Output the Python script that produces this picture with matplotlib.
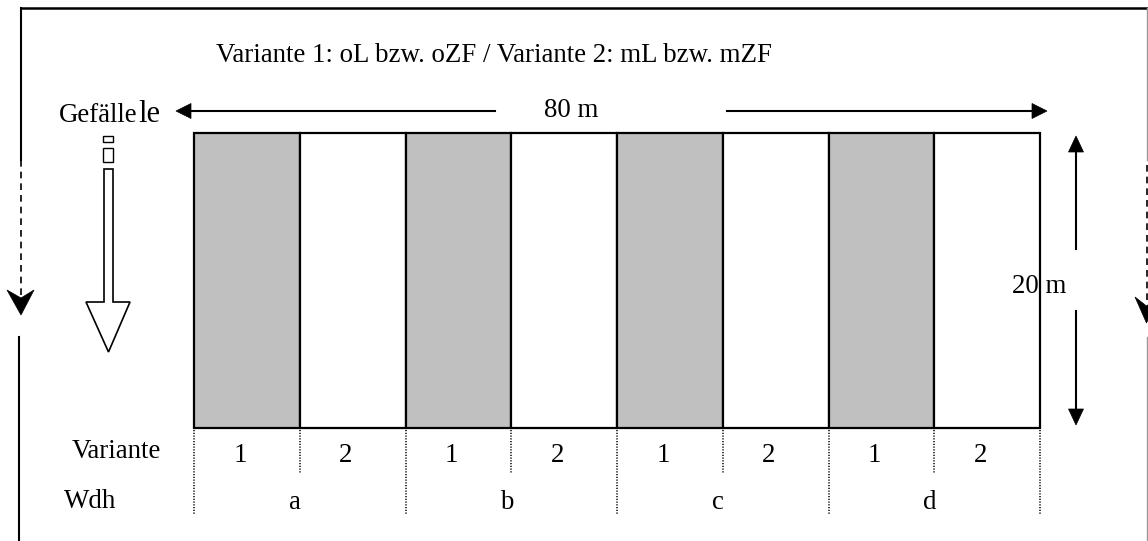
import matplotlib
matplotlib.use("Agg")
import matplotlib.pyplot as plt
from matplotlib.patches import Rectangle, Polygon

# ---- data ----
variants = ["1", "2", "1", "2", "1", "2", "1", "2"]
groups = ["a", "b", "c", "d"]
cell_fill = ["#c0c0c0", "#ffffff"] * 4
title = "Variante 1: oL bzw. oZF / Variante 2: mL bzw. mZF"
width_label = "80 m"
height_label = "20 m"
row_labels = ["Variante", "Wdh"]

W, H = 1148, 541
fig = plt.figure(figsize=(W / 100, H / 100), dpi=100)
ax = fig.add_axes([0, 0, 1, 1])
ax.set_xlim(0, W)
ax.set_ylim(H, 0)
ax.axis("off")

FONT = "Liberation Serif"
FS = 19.4

# field rectangle
x0, x1, y0, y1 = 194, 1040, 133, 428
n = len(variants)
cw = (x1 - x0) / n
for i, (v, fc) in enumerate(zip(variants, cell_fill)):
    ax.add_patch(Rectangle((x0 + i * cw, y0), cw, y1 - y0, facecolor=fc,
                           edgecolor="black", lw=1.6, zorder=2))
    ax.text(x0 + i * cw + 46, 462, v, fontsize=FS, family=FONT,
            ha="center", va="baseline")

# dotted separators
for i in range(n + 1):
    xb = x0 + i * cw
    yend = 514 if i % 2 == 0 else 473
    ax.plot([xb, xb], [y1 + 2, yend], color="black", lw=1.1,
            linestyle=(0, (0.8, 1.0)), zorder=1)

for g_i, g in enumerate(groups):
    ax.text(x0 + (2 * g_i + 1) * cw - 5, 509, g, fontsize=FS, family=FONT,
            ha="center", va="baseline")

ax.text(72, 458, row_labels[0], fontsize=FS, family=FONT, ha="left", va="baseline")
ax.text(64, 508, row_labels[1], fontsize=FS, family=FONT, ha="left", va="baseline")

# title
ax.text(216, 62, title, fontsize=FS, family=FONT, ha="left", va="baseline")

# Gefaelle label
ax.text(59, 122, "Gefälle", fontsize=FS, family=FONT, ha="left", va="baseline")
ax.text(138, 122, "le", fontsize=22, family=FONT, ha="left", va="baseline")

def head(tip, direction, length=15, half=7.5):
    tx, ty = tip
    dx, dy = direction
    bx, by = tx - dx * length, ty - dy * length
    px, py = -dy, dx
    return Polygon([(tx, ty), (bx + px * half, by + py * half),
                    (bx - px * half, by - py * half)], closed=True,
                   facecolor="black", edgecolor="black", lw=0.5, zorder=3)

# 80 m arrows
ay = 111
ax.plot([190, 495], [ay, ay], color="black", lw=1.5)
ax.add_patch(head((176, ay), (-1, 0)))
ax.plot([727, 1033], [ay, ay], color="black", lw=1.5)
ax.add_patch(head((1047, ay), (1, 0)))
ax.text(571, 117, width_label, fontsize=FS, family=FONT, ha="center", va="baseline")

# 20 m arrows
vx = 1076
ax.plot([vx, vx], [150, 249], color="black", lw=1.5)
ax.add_patch(head((vx, 136), (0, -1), length=16))
ax.plot([vx, vx], [311, 411], color="black", lw=1.5)
ax.add_patch(head((vx, 425), (0, 1), length=16))
ax.text(1012, 293, height_label, fontsize=FS, family=FONT, ha="left", va="baseline")

# hollow slope arrow
hx0, hx1 = 104, 113
ax.add_patch(Rectangle((hx0 - 1, 136), 10, 6, facecolor="white", edgecolor="black", lw=1.0))
ax.add_patch(Rectangle((hx0 - 1, 148), 10, 14, facecolor="white", edgecolor="black", lw=1.0))
ax.add_patch(Polygon([(hx0, 169), (hx1, 169), (hx1, 302), (130, 302), (108.5, 352),
                      (86, 302), (hx0, 302)], closed=True, facecolor="white",
                     edgecolor="black", lw=1.2))

# outer frame
ax.plot([21, W], [8, 8], color="black", lw=1.8)
ax.plot([21, 21], [8, 160], color="black", lw=1.5)
ax.plot([21, 21], [160, 295], color="black", lw=1.2, linestyle=(0, (4, 3)))
ax.add_patch(Polygon([(21, 315), (7, 290), (21, 298), (34, 290)], closed=True,
                     facecolor="black", edgecolor="black", lw=0.5))
ax.plot([19, 19], [337, H], color="black", lw=1.5)

rx = 1146.5
ax.plot([rx, rx], [8, 160], color="#999999", lw=1.0)
ax.plot([rx, rx], [165, 300], color="black", lw=1.2, linestyle=(0, (4, 3)))
ax.add_patch(Polygon([(rx, 323), (1135, 297), (rx, 306), (1158, 297)], closed=True,
                     facecolor="black", edgecolor="black", lw=0.5))
ax.plot([rx, rx], [337, H], color="#999999", lw=1.0)

fig.savefig("out.png", dpi=100)
